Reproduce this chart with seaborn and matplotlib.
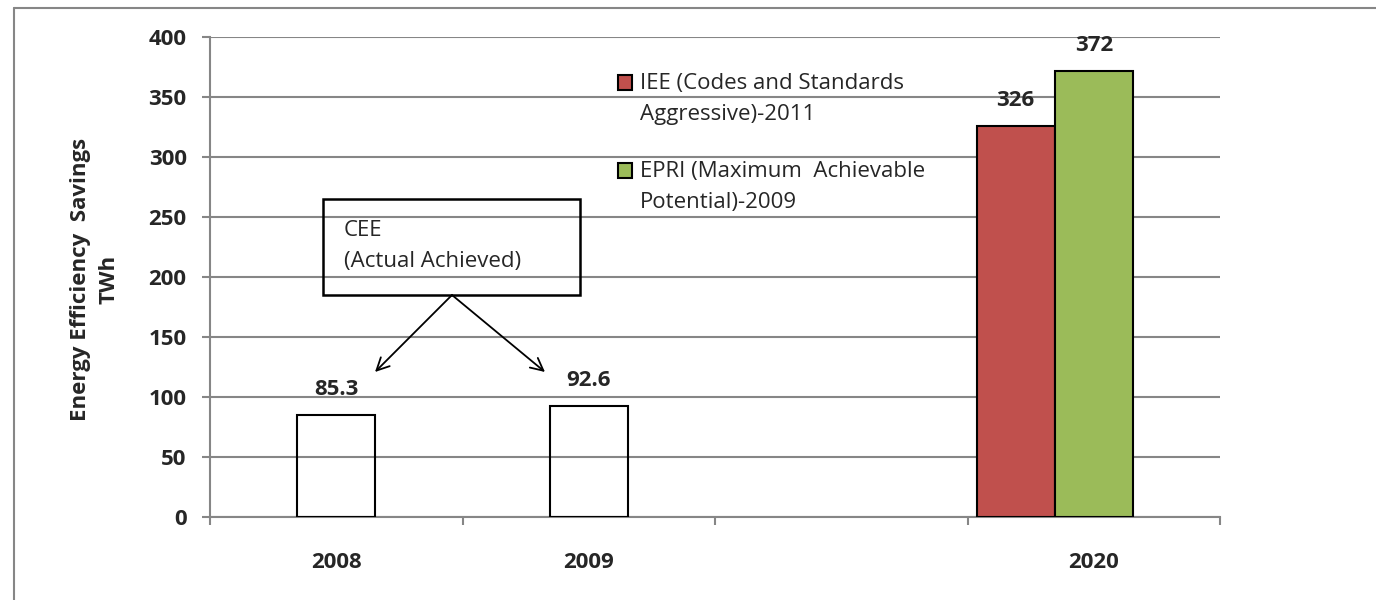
import matplotlib
matplotlib.use("Agg")
import matplotlib.pyplot as plt
import seaborn as sns
from matplotlib.patches import Rectangle
from matplotlib.lines import Line2D

# ---- data ----
categories = ["2008", "2009", " ", "2020"]
cee_years = ["2008", "2009"]
cee_values = [85.3, 92.6]
iee_years = ["2020"]
iee_values = [326]
epri_years = ["2020"]
epri_values = [372]
iee_label = "IEE (Codes and Standards\nAggressive)-2011"
epri_label = "EPRI (Maximum  Achievable\nPotential)-2009"
box_text = "CEE\n(Actual Achieved)"
y_label = "Energy Efficiency  Savings\nTWh"
y_ticks = [0, 50, 100, 150, 200, 250, 300, 350, 400]

# ---- style ----
RED = "#C0504D"
GREEN = "#9BBB59"
GRAY = "#868686"
FS = 16

W, H = 1376, 600
sns.set_style("white")
plt.rcParams['font.family'] = ['Open Sans', 'DejaVu Sans']


def fx(px):
    return px / W


def fy(py):
    return 1 - py / H


fig = plt.figure(figsize=(W / 100, H / 100), dpi=100)
ax = fig.add_axes([fx(210), fy(517), fx(1220) - fx(210), fy(37) - fy(517)])

bw = 0.309
sns.barplot(x=cee_years, y=cee_values, order=categories, ax=ax, width=bw,
            color="black", fill=False, linewidth=1.5, errorbar=None, zorder=3)
n0 = len(ax.patches)
sns.barplot(x=iee_years, y=iee_values, order=categories, ax=ax, width=bw,
            color=RED, saturation=1, edgecolor="black", linewidth=1.5,
            errorbar=None, zorder=3)
for p in ax.patches[n0:]:
    p.set_x(p.get_x() - bw)
sns.barplot(x=epri_years, y=epri_values, order=categories, ax=ax, width=bw,
            color=GREEN, saturation=1, edgecolor="black", linewidth=1.5,
            errorbar=None, zorder=3)

for p in ax.patches:
    v = p.get_height()
    ax.annotate(f"{v:g}", (p.get_x() + p.get_width() / 2, v),
                xytext=(0, 18), textcoords="offset points",
                ha="center", va="center", fontsize=FS, fontweight="bold")

ax.set_xlim(-0.5, 3.5)
ax.set_ylim(0, 400)
ax.set_xlabel("")
ax.set_ylabel("")
ax.set_yticks(y_ticks)
ax.set_yticklabels([str(t) for t in y_ticks], fontsize=FS, fontweight="bold")
ax.set_xticks([-0.5, 0.5, 1.5, 2.5, 3.5])
ax.set_xticklabels([])
ax.set_xticks(range(len(categories)), minor=True)
ax.set_xticklabels(categories, minor=True, fontsize=FS, fontweight="bold")

ax.grid(axis="y", color=GRAY, linewidth=1.5)
ax.grid(axis="x", visible=False)
ax.set_axisbelow(True)
for s in ["top", "right"]:
    ax.spines[s].set_visible(False)
for s in ["left", "bottom"]:
    ax.spines[s].set_color(GRAY)
    ax.spines[s].set_linewidth(1.5)
ax.tick_params(axis="y", left=True, length=5.8, width=1.5, color=GRAY, pad=11)
ax.tick_params(axis="x", which="major", bottom=True, length=5.8, width=1.5,
               color=GRAY, direction="out")
ax.tick_params(axis="x", which="minor", bottom=True, length=0, pad=25)

# legend (Excel-like, placed inside the plot)
for (y0, col, lab) in [(75, RED, iee_label), (163, GREEN, epri_label)]:
    fig.add_artist(Rectangle((fx(618), fy(y0 + 15)), 14 / W, 15 / H,
                             transform=fig.transFigure, facecolor=col,
                             edgecolor="black", linewidth=1.5))
    fig.text(fx(640), fy(y0 - 2), lab, ha="left", va="top", fontsize=FS,
             linespacing=1.6)

# CEE callout box (transparent, gridlines show through)
fig.add_artist(Rectangle((fx(323), fy(295)), (580 - 323) / W, (295 - 199) / H,
                         transform=fig.transFigure, facecolor="none",
                         edgecolor="black", linewidth=1.8, zorder=5))
fig.text(fx(344), fy(220), box_text, ha="left", va="top", fontsize=FS,
         linespacing=1.6, zorder=6)
for tip in [(375, 372), (545, 372)]:
    ax.annotate("", xy=(fx(tip[0]), fy(tip[1])), xycoords="figure fraction",
                xytext=(fx(452), fy(295)), textcoords="figure fraction",
                arrowprops=dict(arrowstyle="->,head_length=0.9,head_width=0.45",
                                color="black", lw=1.3, shrinkA=0, shrinkB=0,
                                mutation_scale=10))

# y label
fig.text(fx(95), fy(279), y_label, rotation=90, ha="center", va="center",
         multialignment="center", fontsize=FS, fontweight="bold",
         linespacing=1.45)

# outer chart frame
fig.add_artist(Line2D([fx(14), 1], [fy(8), fy(8)], color=GRAY, linewidth=1.5))
fig.add_artist(Line2D([fx(14), fx(14)], [fy(8), 0], color=GRAY, linewidth=1.5))

fig.savefig("out.png", dpi=100)
